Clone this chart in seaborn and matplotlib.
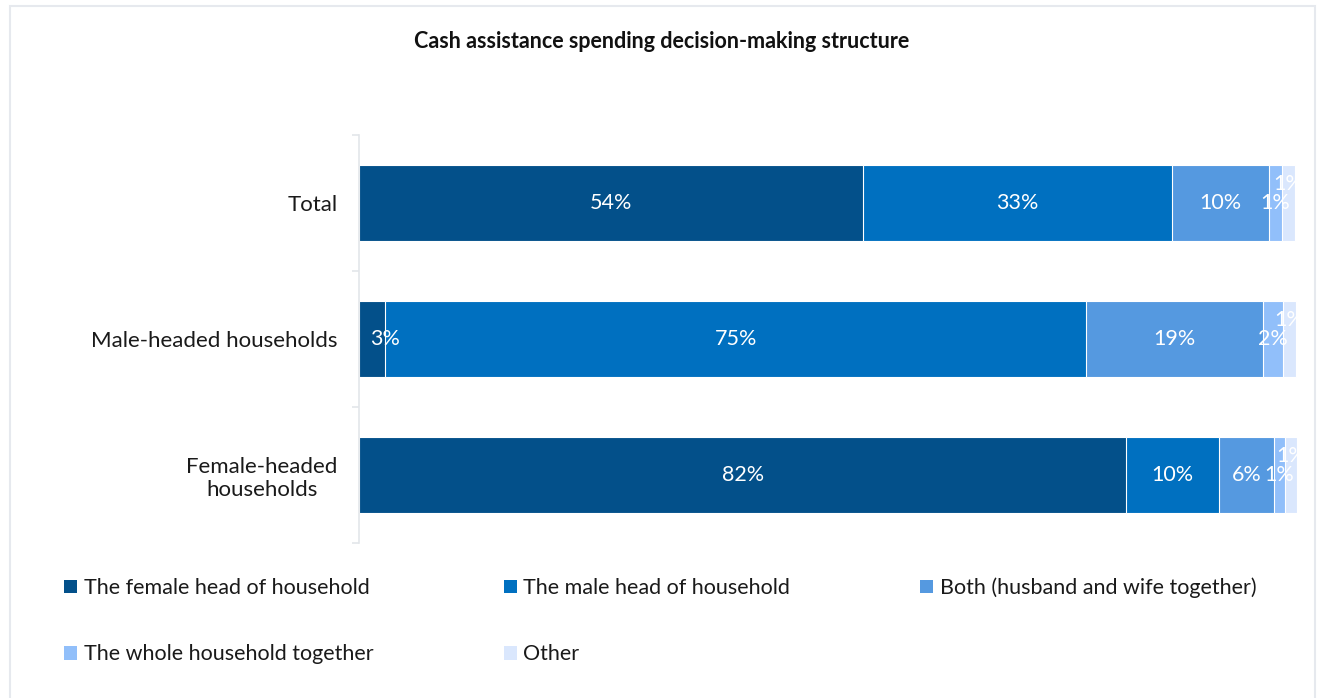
import numpy as np
import pandas as pd
import matplotlib
matplotlib.use("Agg")
import matplotlib.pyplot as plt
from matplotlib.patches import Patch, Rectangle
import seaborn as sns

# Share of households by who decides how cash assistance is spent (%)
categories = ["Total", "Male-headed households", "Female-headed\nhouseholds"]
series = [
    "The female head of household",
    "The male head of household",
    "Both (husband and wife together)",
    "The whole household together",
    "Other",
]
female_head = [53.7, 2.8, 81.8]
male_head = [33.0, 74.7, 9.9]
both = [10.3, 18.9, 5.8]
whole_household = [1.4, 2.1, 1.2]
other = [1.4, 1.4, 1.3]

colors = ["#03508A", "#0070C0", "#5599E0", "#91BFFA", "#DAE7FD"]

sns.set_theme(style="white")
plt.rcParams["font.family"] = ["Lato", "DejaVu Sans"]

FS = 15.5

values = np.array([female_head, male_head, both, whole_household, other])
cum = values.cumsum(axis=0)
df = pd.DataFrame({"category": categories})
for i in range(len(series)):
    df[f"cum{i}"] = cum[i]

fig = plt.figure(figsize=(13.17, 6.98), dpi=100)
ax = fig.add_axes([359 / 1317, 1 - 543 / 698, (1297 - 359) / 1317, (543 - 135) / 698])

# stacked bars: draw the cumulative totals from the outermost segment inwards
for i in reversed(range(len(series))):
    sns.barplot(data=df, y="category", x=f"cum{i}", color=colors[i], orient="h",
                width=0.56, saturation=1, edgecolor="white", linewidth=0.8, ax=ax)

# segment labels
last = len(series) - 1
for r in range(len(categories)):
    for i in range(len(series)):
        v = values[i, r]
        xc = cum[i, r] - v / 2
        if i == 0 and v < 4:
            # narrow first segment: keep the label clear of the axis line
            xc = cum[i, r]
        yc = r - 0.14 if i == last else r
        ax.text(xc, yc, f"{v:.0f}%", ha="center", va="center", color="white",
                fontsize=FS, clip_on=(i == last))

ax.set_xlim(0, 100)
ax.set_ylim(2.5, -0.5)
ax.set_xlabel("")
ax.set_ylabel("")
ax.set_xticks([])
for s in ["top", "right", "bottom"]:
    ax.spines[s].set_visible(False)
ax.spines["left"].set_color("#E3E6EA")
ax.spines["left"].set_linewidth(1.2)
ax.set_yticks(range(len(categories)))
ax.set_yticklabels(categories, fontsize=FS + 0.5, color="#1a1a1a", multialignment="center")
ax.tick_params(axis="y", which="major", length=0, pad=15.5)
ax.set_yticks([-0.5, 0.5, 1.5, 2.5], minor=True)
ax.tick_params(axis="y", which="minor", length=5, width=1.2, color="#E3E6EA", left=True)

fig.text(662 / 1317, 1 - 42 / 698, "Cash assistance spending decision-making structure",
         ha="center", va="center", fontsize=FS, fontweight="bold", color="#111111")

# legend entries laid out row by row (matplotlib fills columns first)
order = [0, 3, 1, 4, 2]
handles = [Patch(facecolor=colors[k], edgecolor="none", label=series[k]) for k in order]
fig.legend(handles=handles, ncol=3, loc="upper left", frameon=False,
           bbox_to_anchor=(58 / 1317, 1 - 571 / 698), fontsize=FS,
           handlelength=0.6, handleheight=0.6, handletextpad=0.3,
           labelspacing=2.15, columnspacing=6.05, labelcolor="#1a1a1a",
           borderaxespad=0, borderpad=0.3)

# light frame around the chart area
fig.patches.append(Rectangle((10 / 1317, -0.02), 1305 / 1317, 1 - 6 / 698 + 0.02,
                             transform=fig.transFigure, fill=False,
                             edgecolor="#E6E9EE", linewidth=1.5))

fig.savefig("out.png", dpi=100)
